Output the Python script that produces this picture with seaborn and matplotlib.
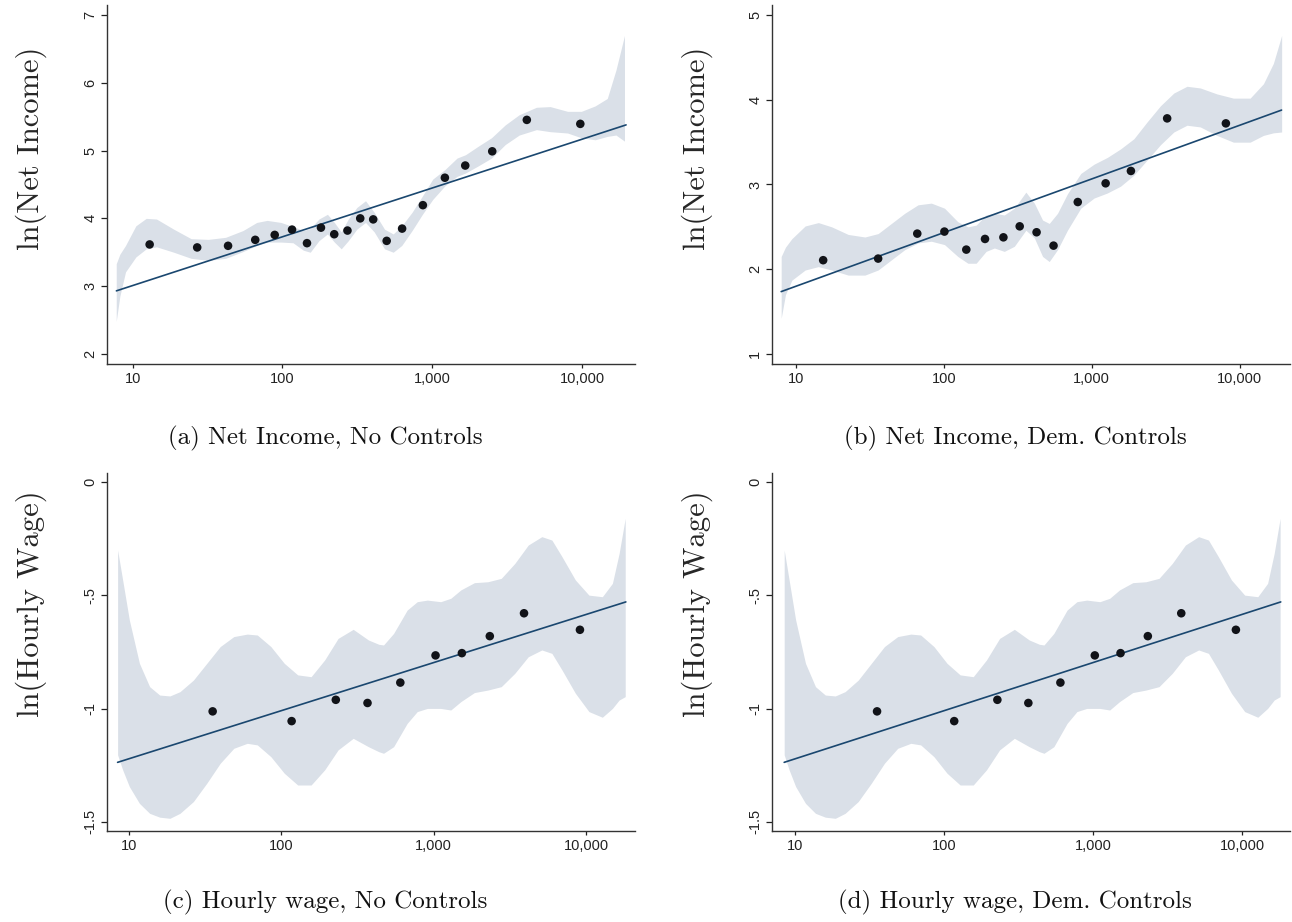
import numpy as np
import pandas as pd
import matplotlib
matplotlib.use("Agg")
import matplotlib.pyplot as plt
import seaborn as sns

# ---------------- data ----------------
# Panel (a) Net Income, No Controls
a_x = [13.0, 27.0, 43.4, 65.9, 88.9, 116, 146, 181, 222, 272, 331, 404, 497, 630, 867, 1216, 1663, 2518, 4285, 9750]
a_y = [3.615, 3.571, 3.595, 3.683, 3.756, 3.834, 3.634, 3.863, 3.766, 3.820, 4.00, 3.985, 3.668, 3.849,
       4.195, 4.60, 4.78, 4.99, 5.454, 5.395]
a_fit_x = [7.8, 19700]
a_fit_y = [2.93, 5.38]
a_band_logx = [0.891, 0.915, 0.953, 1.022, 1.091, 1.160, 1.275, 1.391, 1.506, 1.621, 1.737, 1.829, 1.898, 1.990,
               2.071, 2.140, 2.186, 2.244, 2.301, 2.347, 2.393, 2.440, 2.497, 2.555, 2.613, 2.682, 2.740, 2.797,
               2.866, 2.935, 3.004, 3.085, 3.166, 3.223, 3.304, 3.396, 3.488, 3.581, 3.696, 3.788, 3.904, 3.996,
               4.088, 4.169, 4.227, 4.284]
a_band_hi = [3.33, 3.47, 3.60, 3.89, 4.00, 3.99, 3.84, 3.70, 3.69, 3.72, 3.82, 3.94, 3.97, 3.94,
             3.88, 3.82, 3.85, 3.99, 4.06, 3.94, 3.80, 3.99, 4.16, 4.26, 4.09, 3.84, 3.77, 3.89,
             4.09, 4.33, 4.58, 4.72, 4.89, 4.94, 5.06, 5.19, 5.38, 5.53, 5.64, 5.65, 5.58, 5.58,
             5.66, 5.77, 6.19, 6.70]
a_band_lo = [2.48, 2.85, 3.21, 3.43, 3.55, 3.58, 3.50, 3.41, 3.38, 3.41, 3.51, 3.60, 3.65, 3.65,
             3.64, 3.53, 3.50, 3.67, 3.77, 3.65, 3.55, 3.67, 3.84, 3.94, 3.80, 3.55, 3.50, 3.60,
             3.82, 4.06, 4.28, 4.48, 4.62, 4.67, 4.77, 4.89, 5.09, 5.23, 5.31, 5.28, 5.26, 5.19,
             5.16, 5.21, 5.23, 5.14]
a_yticks = [2, 3, 4, 5, 6, 7]
a_yticklabels = ["2", "3", "4", "5", "6", "7"]

# Panel (b) Net Income, Dem. Controls
b_x = [15.3, 36.0, 66.2, 101, 142, 190, 253, 326, 424, 552, 805, 1242, 1841, 3236, 8072]
b_y = [2.106, 2.125, 2.420, 2.444, 2.231, 2.357, 2.376, 2.506, 2.436, 2.278, 2.793, 3.014, 3.160, 3.781, 3.722]
b_fit_x = [7.96, 19200]
b_fit_y = [1.735, 3.879]
b_band_logx = [0.901, 0.930, 0.973, 1.063, 1.152, 1.242, 1.354, 1.467, 1.556, 1.646, 1.736, 1.826, 1.916, 2.005,
               2.095, 2.163, 2.219, 2.286, 2.342, 2.409, 2.477, 2.555, 2.612, 2.668, 2.713, 2.769, 2.836, 2.926,
               3.016, 3.106, 3.195, 3.285, 3.375, 3.465, 3.555, 3.644, 3.734, 3.846, 3.958, 4.071, 4.161, 4.228,
               4.284]
b_band_hi = [2.15, 2.26, 2.36, 2.51, 2.55, 2.50, 2.41, 2.38, 2.42, 2.54, 2.66, 2.76, 2.78, 2.72,
             2.56, 2.50, 2.52, 2.64, 2.66, 2.64, 2.72, 2.91, 2.78, 2.58, 2.54, 2.66, 2.89, 3.13,
             3.24, 3.32, 3.42, 3.54, 3.74, 3.93, 4.08, 4.16, 4.14, 4.07, 4.02, 4.02, 4.19, 4.43,
             4.76]
b_band_lo = [1.42, 1.70, 1.87, 1.99, 2.03, 1.99, 1.93, 1.93, 1.99, 2.11, 2.23, 2.31, 2.33, 2.29,
             2.15, 2.07, 2.07, 2.21, 2.25, 2.21, 2.27, 2.46, 2.37, 2.15, 2.09, 2.23, 2.46, 2.72,
             2.84, 2.90, 2.98, 3.11, 3.29, 3.47, 3.62, 3.70, 3.68, 3.58, 3.50, 3.50, 3.58, 3.61,
             3.62]
b_yticks = [1, 2, 3, 4, 5]
b_yticklabels = ["1", "2", "3", "4", "5"]

# Panels (c) and (d) Hourly wage (identical in the source)
c_x = [35.5, 117, 228, 368, 604, 1028, 1530, 2333, 3911, 9100]
c_y = [-1.012, -1.055, -0.961, -0.975, -0.885, -0.765, -0.755, -0.680, -0.579, -0.652]
c_fit_x = [8.45, 18200]
c_fit_y = [-1.237, -0.529]
c_band_logx = [0.927, 0.96, 1.004, 1.07, 1.137, 1.203, 1.27, 1.336, 1.424, 1.512, 1.60, 1.689, 1.777, 1.843,
               1.932, 2.02, 2.108, 2.196, 2.285, 2.373, 2.472, 2.572, 2.64, 2.671, 2.737, 2.826, 2.892, 2.958,
               3.046, 3.112, 3.178, 3.267, 3.355, 3.443, 3.532, 3.62, 3.709, 3.775, 3.841, 3.929, 4.018, 4.106,
               4.172, 4.216, 4.256]
c_band_hi = [-0.30, -0.432, -0.609, -0.80, -0.903, -0.94, -0.944, -0.925, -0.874, -0.80, -0.726, -0.682,
             -0.671, -0.675, -0.726, -0.80, -0.851, -0.859, -0.785, -0.69, -0.65, -0.697, -0.716, -0.719,
             -0.668, -0.565, -0.528, -0.521, -0.528, -0.513, -0.476, -0.444, -0.44, -0.425, -0.359, -0.278,
             -0.241, -0.256, -0.329, -0.432, -0.499, -0.506, -0.447, -0.315, -0.16]
c_band_lo = [-1.204, -1.27, -1.344, -1.418, -1.462, -1.479, -1.484, -1.462, -1.41, -1.329, -1.241, -1.175,
             -1.153, -1.16, -1.212, -1.285, -1.337, -1.337, -1.27, -1.182, -1.131, -1.168, -1.19, -1.197,
             -1.168, -1.065, -1.013, -0.999, -0.999, -1.006, -0.969, -0.929, -0.918, -0.903, -0.844, -0.771,
             -0.741, -0.756, -0.829, -0.932, -1.013, -1.038, -0.999, -0.962, -0.947]
c_yticks = [-1.5, -1.0, -0.5, 0.0]
c_yticklabels = ["-1.5", "-1", "-.5", "0"]

d_x, d_y, d_fit_x, d_fit_y = c_x, c_y, c_fit_x, c_fit_y
d_band_logx, d_band_hi, d_band_lo = c_band_logx, c_band_hi, c_band_lo

xticks = [10, 100, 1000, 10000]
xticklabels = ["10", "100", "1,000", "10,000"]

captions = ["(a) Net Income, No Controls", "(b) Net Income, Dem. Controls",
            "(c) Hourly wage, No Controls", "(d) Hourly wage, Dem. Controls"]
ylabels = ["ln(Net Income)", "ln(Net Income)", "ln(Hourly Wage)", "ln(Hourly Wage)"]

# ---------------- style ----------------
sns.set_theme(style="white")
plt.rcParams["font.family"] = ["Liberation Sans", "DejaVu Sans"]
plt.rcParams["axes.formatter.use_mathtext"] = True

BAND = "#dae0e8"
LINE = "#1a476f"
DOT = "#111318"
SERIF = ["cmr10", "DejaVu Serif"]

fig = plt.figure(figsize=(12.92, 9.22), dpi=100)
W, H = 1292, 922


def make_ax(left, top, right, bottom):
    return fig.add_axes([left / W, 1 - bottom / H, (right - left) / W, (bottom - top) / H])


axes = [make_ax(107, 5, 635, 364), make_ax(772, 5, 1290, 364),
        make_ax(107, 473, 635, 831), make_ax(772, 473, 1290, 831)]

panels = [
    (a_x, a_y, a_fit_x, a_fit_y, a_band_logx, a_band_hi, a_band_lo, (1.85, 7.15), a_yticks, a_yticklabels, (6.75, 22600), 0.60),
    (b_x, b_y, b_fit_x, b_fit_y, b_band_logx, b_band_hi, b_band_lo, (0.88, 5.12), b_yticks, b_yticklabels, (6.9, 21900), 0.60),
    (c_x, c_y, c_fit_x, c_fit_y, c_band_logx, c_band_hi, c_band_lo, (-1.54, 0.04), c_yticks, c_yticklabels, (7.2, 20900), 0.635),
    (d_x, d_y, d_fit_x, d_fit_y, d_band_logx, d_band_hi, d_band_lo, (-1.54, 0.04), c_yticks, c_yticklabels, (7.0, 21000), 0.635),
]

for i, (ax, p) in enumerate(zip(axes, panels)):
    px, py, fx, fy, blx, bhi, blo, ylim, yt, ytl, xlim, ylab_pos = p
    bx = np.power(10.0, np.array(blx))
    ax.fill_between(bx, blo, bhi, color=BAND, linewidth=0, zorder=1)
    fit_df = pd.DataFrame({"x": fx, "y": fy})
    sns.lineplot(data=fit_df, x="x", y="y", ax=ax, color=LINE, linewidth=1.2, zorder=2)
    pts_df = pd.DataFrame({"x": px, "y": py})
    sns.scatterplot(data=pts_df, x="x", y="y", ax=ax, color=DOT, s=38, edgecolor="none", zorder=3)
    ax.set_xscale("log")
    ax.set_xlim(*xlim)
    ax.set_ylim(*ylim)
    ax.set_xticks(xticks, labels=xticklabels)
    ax.xaxis.set_minor_locator(matplotlib.ticker.NullLocator())
    ax.set_yticks(yt, labels=ytl)
    for lab in ax.get_yticklabels():
        lab.set_rotation(90)
        lab.set_va("center")
    ax.tick_params(axis="both", labelsize=10.5, colors="#222222", direction="out", length=4, width=0.9,
                   bottom=True, left=True, pad=3)
    ax.tick_params(axis="x", length=3)
    sns.despine(ax=ax)
    for s in ["left", "bottom"]:
        ax.spines[s].set_color("#333333")
        ax.spines[s].set_linewidth(1.0)
    ax.set_xlabel("")
    ax.set_ylabel(ylabels[i], fontsize=22, family=SERIF)
    ax.yaxis.set_label_coords(-0.114, ylab_pos)

cap_pos = [(325, 438), (1015, 438), (325, 902), (1015, 902)]
for (cx, cy), txt in zip(cap_pos, captions):
    fig.text(cx / W, 1 - cy / H, txt, ha="center", va="center", fontsize=18, family=SERIF, color="#111111")

fig.savefig("out.png", dpi=100)
